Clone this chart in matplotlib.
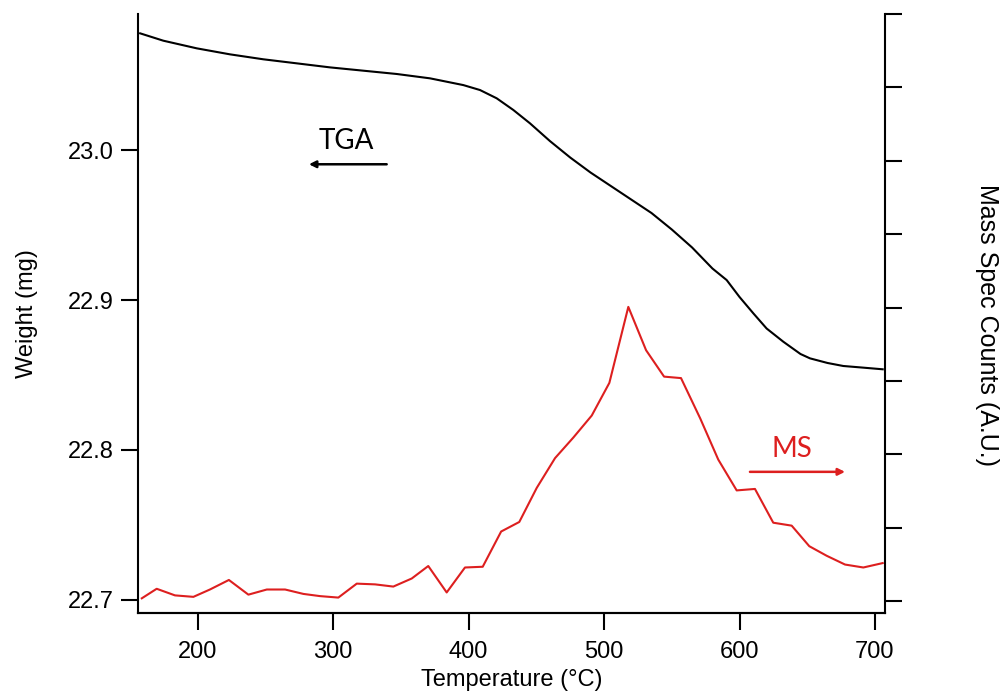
import matplotlib
matplotlib.use("Agg")
import matplotlib.pyplot as plt

# ---- data ----
tga_temp = [157.5, 174.6, 199.3, 223.8, 248.4, 273.1, 297.7, 322.3, 346.9, 371.5,
            396.1, 408.4, 420.7, 433.0, 445.3, 460.0, 475.0, 490.0, 505.0, 520.0,
            535.0, 550.0, 565.0, 580.0, 590.5, 600.0, 610.2, 620.0, 632.3, 645.0,
            652.0, 665.0, 676.6, 690.0, 705.7]
tga_weight = [23.0778, 23.0729, 23.0678, 23.0638, 23.0605, 23.0578, 23.0551, 23.0529,
              23.0507, 23.0478, 23.0433, 23.0400, 23.0345, 23.0267, 23.0178, 23.0060,
              22.9950, 22.9850, 22.9760, 22.9670, 22.9580, 22.9470, 22.9350, 22.9210,
              22.9133, 22.9020, 22.8911, 22.8810, 22.8722, 22.8640, 22.8611, 22.8580,
              22.8560, 22.8550, 22.8538]

ms_temp = [158.7, 169.7, 183.2, 196.8, 209.0, 223.0, 237.4, 251.0, 264.5, 278.0,
           290.3, 303.8, 317.4, 330.9, 344.4, 358.0, 370.2, 383.8, 397.3, 410.4,
           424.0, 437.4, 450.3, 463.8, 477.3, 490.9, 503.9, 517.9, 531.0, 544.3,
           556.8, 571.0, 584.3, 597.9, 611.4, 624.9, 638.5, 651.5, 664.3, 677.9,
           691.4, 705.7]
ms_counts = [0.04, 0.17, 0.08, 0.06, 0.16, 0.29, 0.09, 0.16, 0.16, 0.10,
             0.07, 0.05, 0.24, 0.23, 0.20, 0.31, 0.48, 0.12, 0.46, 0.47,
             0.95, 1.08, 1.545, 1.95, 2.23, 2.53, 2.975, 4.01, 3.42, 3.06,
             3.04, 2.49, 1.93, 1.51, 1.53, 1.07, 1.03, 0.75, 0.62, 0.50,
             0.46, 0.52]

x_ticks = [200, 300, 400, 500, 600, 700]
weight_ticks = [22.7, 22.8, 22.9, 23.0]
ms_ticks = [0, 1, 2, 3, 4, 5, 6, 7, 8]

# ---- style ----
plt.rcParams['font.family'] = ['Liberation Sans', 'DejaVu Sans']
lw_axis = 1.5
tick_len = 12.2
fs = 17
red = '#dd1f1f'

fig = plt.figure(figsize=(10.01, 6.98), dpi=100)
ax = fig.add_axes([138/1001, 85/698, (885-138)/1001, (613-14)/698])
ax2 = ax.twinx()

ax.plot(tga_temp, tga_weight, color='black', lw=1.5)
ax2.plot(ms_temp, ms_counts, color=red, lw=1.5)

ax.set_xlim(155.9, 707.4)
ax.set_ylim(22.6913, 23.0907)
ax2.set_ylim(-0.16, 8.0)

ax.set_xticks(x_ticks)
ax.set_yticks(weight_ticks)
ax.set_yticklabels([f"{v:.1f}" for v in weight_ticks])
ax2.set_yticks(ms_ticks)
ax2.set_yticklabels([])

for a in (ax, ax2):
    a.spines['top'].set_visible(False)
    for s in a.spines.values():
        s.set_linewidth(lw_axis)
    a.tick_params(direction='out', length=tick_len, width=lw_axis, labelsize=fs, pad=5)
ax.tick_params(axis='x', pad=8)
ax2.spines['left'].set_visible(False)
ax.spines['right'].set_visible(False)

ax.set_xlabel('Temperature (°C)', fontsize=fs, labelpad=4)
ax.set_ylabel('Weight (mg)', fontsize=fs, va='center')
ax.yaxis.set_label_coords(-0.148, 0.5)
ax2.set_ylabel('Mass Spec Counts (A.U.)', fontsize=18, rotation=-90, va='center', ha='center')
ax2.yaxis.set_label_coords(1.136, 0.48)

# annotations
ann_font = ['Lato', 'DejaVu Sans']
ax.text(309.8, 23.006, 'TGA', fontsize=20, family=ann_font, ha='center', va='center', color='black')
ax.annotate('', xy=(282.1, 22.9905), xytext=(339.5, 22.9905),
            arrowprops=dict(arrowstyle='-|>', color='black', lw=1.8, mutation_scale=10, shrinkA=0, shrinkB=0))
ax2.text(638.5, 2.07, 'MS', fontsize=20, family=ann_font, ha='center', va='center', color=red)
ax2.annotate('', xy=(677.9, 1.763), xytext=(607.7, 1.763),
             arrowprops=dict(arrowstyle='-|>', color=red, lw=1.8, mutation_scale=10, shrinkA=0, shrinkB=0))

fig.savefig('out.png', dpi=100)
